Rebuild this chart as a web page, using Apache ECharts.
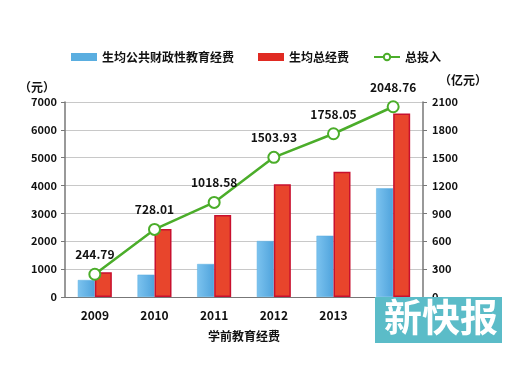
<!DOCTYPE html>
<html><head><meta charset="utf-8">
<script src="https://cdn.jsdelivr.net/npm/echarts@6/dist/echarts.min.js"></script>
<style>html,body{margin:0;padding:0;background:#fff}#c{width:510px;height:371px}</style>
</head><body><div id="c"></div>
<script>
var years = ['2009','2010','2011','2012','2013','2014'];
var publicPerStudent = [610, 800, 1185, 2010, 2200, 3900];
var totalPerStudent = [890, 2440, 2940, 4045, 4500, 6590];
var totalInvest = [244.79, 728.01, 1018.58, 1503.93, 1758.05, 2048.76];
var leftTicks = {min:0, max:7000, interval:1000};
var rightTicks = {min:0, max:2100, interval:300};

var F = '"Microsoft YaHei","Noto Sans CJK SC",sans-serif';
var chart = echarts.init(document.getElementById('c'));
chart.setOption({
  animation:false,
  textStyle:{fontFamily:F},
  legend:{
    top:46, left:66, itemGap:24, itemWidth:26, itemHeight:8,
    textStyle:{fontSize:12, fontWeight:'bold', color:'#111', fontFamily:F},
    data:[{name:'生均公共财政性教育经费', icon:'rect', itemStyle:{color:'#5aaee0', borderWidth:0}},
          {name:'生均总经费', icon:'rect', itemStyle:{color:'#e02a22', borderWidth:0}},
          {name:'总投入'}]
  },
  grid:{left:65, right:87, top:102, bottom:74},
  xAxis:{
    type:'category', data:years,
    name:'学前教育经费', nameLocation:'middle', nameGap:33,
    nameTextStyle:{fontSize:12, fontWeight:'bold', color:'#111'},
    axisLine:{lineStyle:{color:'#777'}},
    axisTick:{show:false},
    axisLabel:{fontSize:12, fontWeight:'bold', color:'#111', margin:12}
  },
  yAxis:[{
    type:'value', min:leftTicks.min, max:leftTicks.max, interval:leftTicks.interval,
    name:'（元）', nameGap:9, nameTextStyle:{fontSize:12, fontWeight:'bold', color:'#111', align:'right', padding:[0,10,0,0]},
    axisLine:{show:true, lineStyle:{color:'#777', width:1.5}},
    axisTick:{show:true, length:4, lineStyle:{color:'#777'}},
    axisLabel:{fontSize:11, fontWeight:'bold', color:'#111', margin:8, formatter:function(v){return String(v);}},
    splitLine:{lineStyle:{color:'#c8c8c8'}}
  },{
    type:'value', min:rightTicks.min, max:rightTicks.max, interval:rightTicks.interval,
    name:'（亿元）', nameGap:16, nameTextStyle:{fontSize:12, fontWeight:'bold', color:'#111', align:'left', padding:[0,0,0,16]},
    axisLine:{show:true, lineStyle:{color:'#777', width:1.5}},
    axisTick:{show:true, length:4, lineStyle:{color:'#777'}},
    axisLabel:{fontSize:11, fontWeight:'bold', color:'#111', margin:9, formatter:function(v){return String(v);}},
    splitLine:{show:false}
  }],
  series:[{
    name:'生均公共财政性教育经费', type:'bar', data:publicPerStudent, barWidth:17, barGap:'0%',
    itemStyle:{color:new echarts.graphic.LinearGradient(0,0,1,0,[{offset:0,color:'#7cc3ef'},{offset:1,color:'#4fa3dc'}]), borderColor:'#5aaee0', borderWidth:0.5}
  },{
    name:'生均总经费', type:'bar', data:totalPerStudent, barWidth:17,
    itemStyle:{color:'#e8452c', borderColor:'#c8102e', borderWidth:1.5}
  },{
    name:'总投入', type:'line', yAxisIndex:1, data:totalInvest,
    symbol:'circle', symbolSize:11, z:5,
    lineStyle:{color:'#4bad2a', width:2.5},
    itemStyle:{color:'#fff', borderColor:'#4bad2a', borderWidth:2},
    label:{show:true, position:'top', distance:7, fontSize:12, fontWeight:'bold', color:'#111',
      formatter:function(p){return p.value.toFixed(2);}}
  }],
  graphic:[{
    type:'rect', left:375, top:297, shape:{width:127, height:46}, style:{fill:'#5bbcc8'}, z:100
  },{
    type:'text', left:384, top:298, z:101,
    style:{text:'新快报', fill:'#fff', font:'bold 38px "Noto Sans CJK SC",serif'}
  }]
});
</script></body></html>
